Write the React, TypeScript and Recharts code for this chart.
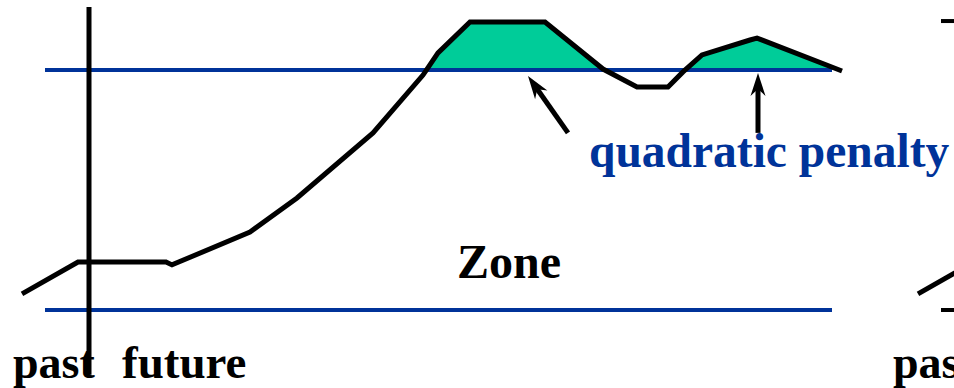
import React from 'react';
import { ComposedChart, Area, Line, XAxis, YAxis, ReferenceLine, ReferenceDot } from 'recharts';

// time steps (0 = now) and the controlled value along the horizon
const times = [-6.7, -1.1, 7.7, 8.3, 16.1, 20.8, 28.4, 33.4, 34.9, 38.1, 45.6, 51.4, 54.8, 57.9, 59.4, 61.3, 66.1, 66.8, 75.3];
const values = [6.7, 20, 20, 18.8, 32.5, 46.7, 73.8, 97.9, 107.1, 120, 120, 100.4, 92.9, 92.9, 99.2, 106.3, 112.5, 113.3, 99.6];

const zoneLow = 0;
const zoneHigh = 100;
const zoneStart = -4.4;
const zoneEnd = 74.3;
const nextSlideShift = 89.6;

const data = times.map((t, i) => ({ t, v: values[i] }));
const nextSlide = times.map((t, i) => ({ t: t + nextSlideShift, v: values[i] }));

const W = 954;
const H = 388;
const TOP = 10;
const BOTTOM = 6;
const Y_MIN = -30;
const Y_MAX = 125;
const BLUE = '#003399';
const GREEN = '#00CC99';
const FONT = '"Liberation Serif", "Times New Roman", serif';

const zoneHighPx = TOP + ((Y_MAX - zoneHigh) / (Y_MAX - Y_MIN)) * (H - TOP - BOTTOM);

const Arrow = (p: any) => {
  const { x1, y1, x2, y2 } = p;
  const len = Math.hypot(x2 - x1, y2 - y1);
  const dx = (x2 - x1) / len;
  const dy = (y2 - y1) / len;
  const L = 23;
  const Wd = 7.5;
  const bx = x2 - dx * L;
  const by = y2 - dy * L;
  const nx = -dy;
  const ny = dx;
  const pts = [
    [x2, y2],
    [bx + nx * Wd, by + ny * Wd],
    [x2 - dx * L * 0.7, y2 - dy * L * 0.7],
    [bx - nx * Wd, by - ny * Wd],
  ]
    .map((q) => q.join(','))
    .join(' ');
  return (
    <g>
      <line x1={x1} y1={y1} x2={x2 - dx * L * 0.6} y2={y2 - dy * L * 0.6} stroke="#000" strokeWidth={5} />
      <polygon points={pts} fill="#000" />
    </g>
  );
};

const label = (text: string, color: string, size: number) => (p: any) => (
  <text x={p.cx} y={p.cy} fill={color} fontFamily={FONT} fontWeight="bold" fontSize={size} textAnchor="start">
    {text}
  </text>
);

export default function App() {
  return (
    <div style={{ position: 'absolute', left: 0, top: 0, background: '#fff' }}>
      <ComposedChart width={W} height={H} data={data} margin={{ top: TOP, right: 0, bottom: BOTTOM, left: 9 }}>
        <defs>
          <linearGradient id="aboveZone" gradientUnits="userSpaceOnUse" x1="0" y1="0" x2="0" y2={H}>
            <stop offset={0} stopColor={GREEN} />
            <stop offset={zoneHighPx / H} stopColor={GREEN} />
            <stop offset={zoneHighPx / H} stopColor={GREEN} stopOpacity={0} />
            <stop offset={1} stopColor={GREEN} stopOpacity={0} />
          </linearGradient>
        </defs>
        <XAxis type="number" dataKey="t" domain={[-8, 86.5]} allowDataOverflow hide />
        <YAxis type="number" domain={[Y_MIN, Y_MAX]} allowDataOverflow hide />
        <Area
          dataKey="v"
          type="linear"
          baseValue={zoneHigh}
          fill="url(#aboveZone)"
          fillOpacity={1}
          stroke="none"
          isAnimationActive={false}
        />
        <ReferenceLine
          segment={[{ x: zoneStart, y: zoneHigh }, { x: zoneEnd, y: zoneHigh }]}
          stroke={BLUE}
          strokeWidth={4}
          ifOverflow="visible"
        />
        <ReferenceLine
          segment={[{ x: zoneStart, y: zoneLow }, { x: zoneEnd, y: zoneLow }]}
          stroke={BLUE}
          strokeWidth={4}
          ifOverflow="visible"
        />
        <ReferenceLine
          segment={[{ x: 0, y: 126.3 }, { x: 0, y: -27 }]}
          stroke="#000"
          strokeWidth={5}
          ifOverflow="visible"
        />
        <Line
          dataKey="v"
          type="linear"
          stroke="#000"
          strokeWidth={5}
          dot={false}
          isAnimationActive={false}
        />
        <Line
          data={nextSlide}
          dataKey="v"
          type="linear"
          stroke="#000"
          strokeWidth={5}
          dot={false}
          isAnimationActive={false}
        />
        <ReferenceLine
          segment={[{ x: 85.2, y: 120.4 }, { x: 86.5, y: 120.4 }]}
          stroke="#000"
          strokeWidth={4}
          ifOverflow="visible"
        />
        <ReferenceLine
          segment={[{ x: 85.2, y: zoneLow }, { x: 86.5, y: zoneLow }]}
          stroke="#000"
          strokeWidth={4}
          ifOverflow="visible"
        />
        <ReferenceLine
          segment={[{ x: 47.9, y: 73.8 }, { x: 43.9, y: 97.5 }]}
          shape={Arrow}
          ifOverflow="visible"
        />
        <ReferenceLine
          segment={[{ x: 66.9, y: 73.8 }, { x: 66.9, y: 98.8 }]}
          shape={Arrow}
          ifOverflow="visible"
        />
        <ReferenceDot x={50.0} y={59.7} r={0} ifOverflow="visible" shape={label('quadratic penalty', BLUE, 47.5)} />
        <ReferenceDot x={36.8} y={13.3} r={0} ifOverflow="visible" shape={label('Zone', '#000', 48)} />
        <ReferenceDot x={-7.6} y={-28.3} r={0} ifOverflow="visible" shape={label('past', '#000', 46)} />
        <ReferenceDot x={3.3} y={-28.3} r={0} ifOverflow="visible" shape={label('future', '#000', 47)} />
        <ReferenceDot x={80.4} y={-28.3} r={0} ifOverflow="visible" shape={label('pas', '#000', 46)} />
      </ComposedChart>
    </div>
  );
}
